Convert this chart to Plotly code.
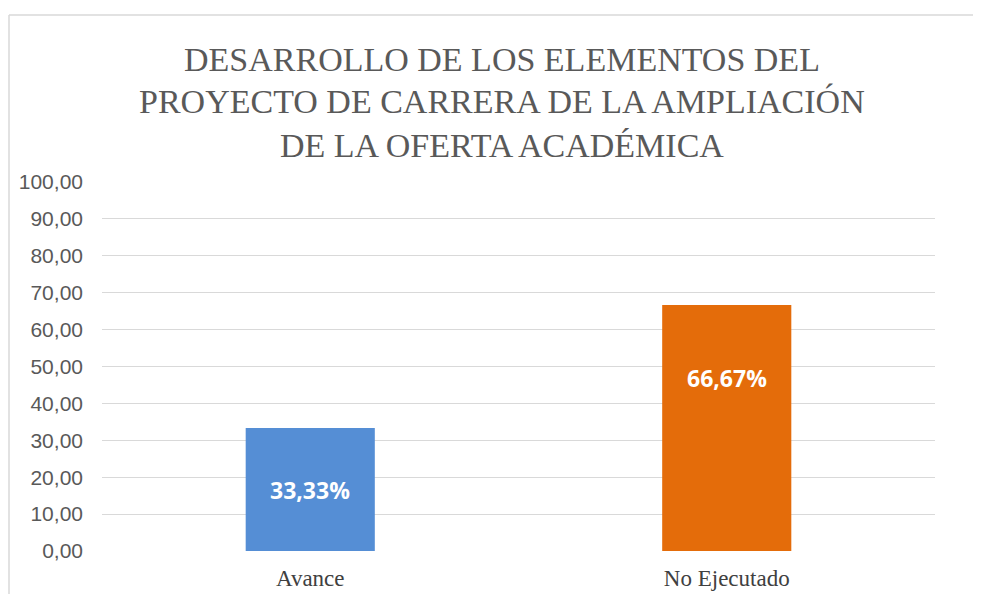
import plotly.graph_objects as go

categories = ["Avance", "No Ejecutado"]
values = [33.33, 66.67]
bar_colors = ["#558ed5", "#e46c0a"]
title_lines = [
    "DESARROLLO DE LOS ELEMENTOS DEL",
    "PROYECTO DE CARRERA DE LA AMPLIACIÓN",
    "DE LA OFERTA ACADÉMICA",
]
tick_vals = [0, 10, 20, 30, 40, 50, 60, 70, 80, 90, 100]

# plot-area geometry in screen pixels (page has ~8px body offset)
PX_L, PX_R, PX_T, PX_B = 102, 935, 182, 551
PW, PH = PX_R - PX_L, PX_B - PX_T
OFF = 8


def py(y):
    return (PX_B - y) / PH


def px(x):
    return (x - PX_L) / PW


fig = go.Figure()
fig.add_trace(go.Bar(
    x=categories, y=values,
    marker=dict(color=bar_colors, line=dict(width=0)),
    hoverinfo="skip",
))

# data labels (inside the bars, white bold)
label_screen_y = [490, 378]
for c, v, ly in zip(categories, values, label_screen_y):
    fig.add_annotation(
        x=c, xref="x", y=py(ly), yref="paper", yanchor="middle",
        text=f"{v:.2f}%".replace(".", ","),
        showarrow=False,
        font=dict(family="Open Sans, Liberation Sans, sans-serif", size=23, color="white", weight="bold"),
    )

# title, one annotation per line
title_y = [60, 102, 146]
for line, yy in zip(title_lines, title_y):
    fig.add_annotation(
        x=px(502), xref="paper", y=py(yy), yref="paper", yanchor="middle",
        xanchor="center",
        text=line, showarrow=False,
        font=dict(family="Liberation Serif, serif", size=34, color="#595959"),
    )

# outer chart-area border (top and left)
fig.add_shape(type="line", xref="paper", yref="paper",
              x0=px(9), x1=px(1000), y0=py(15), y1=py(15),
              line=dict(color="#d9d9d9", width=1.5))
fig.add_shape(type="line", xref="paper", yref="paper",
              x0=px(9), x1=px(9), y0=py(15), y1=py(620),
              line=dict(color="#d9d9d9", width=1.5))

fig.update_layout(
    width=981, height=594,
    margin=dict(l=PX_L - OFF, r=981 + OFF - PX_R, t=PX_T - OFF, b=594 + OFF - PX_B),
    paper_bgcolor="white", plot_bgcolor="white",
    separators=",.",
    showlegend=False,
    bargap=0.69,
    xaxis=dict(
        showgrid=False, zeroline=False, showline=False, automargin=False,
        tickfont=dict(family="Liberation Serif, serif", size=23, color="#404040"),
        ticklabelstandoff=11,
    ),
    yaxis=dict(
        range=[0, 100], tickvals=tick_vals, tickformat=".2f", automargin=False,
        showgrid=True, gridcolor="#d9d9d9", gridwidth=1.3,
        zeroline=False, showline=False,
        tickfont=dict(family="Liberation Sans, Arial, sans-serif", size=21, color="#595959"),
        ticklabelstandoff=18,
    ),
)

fig.write_html("out.html")
